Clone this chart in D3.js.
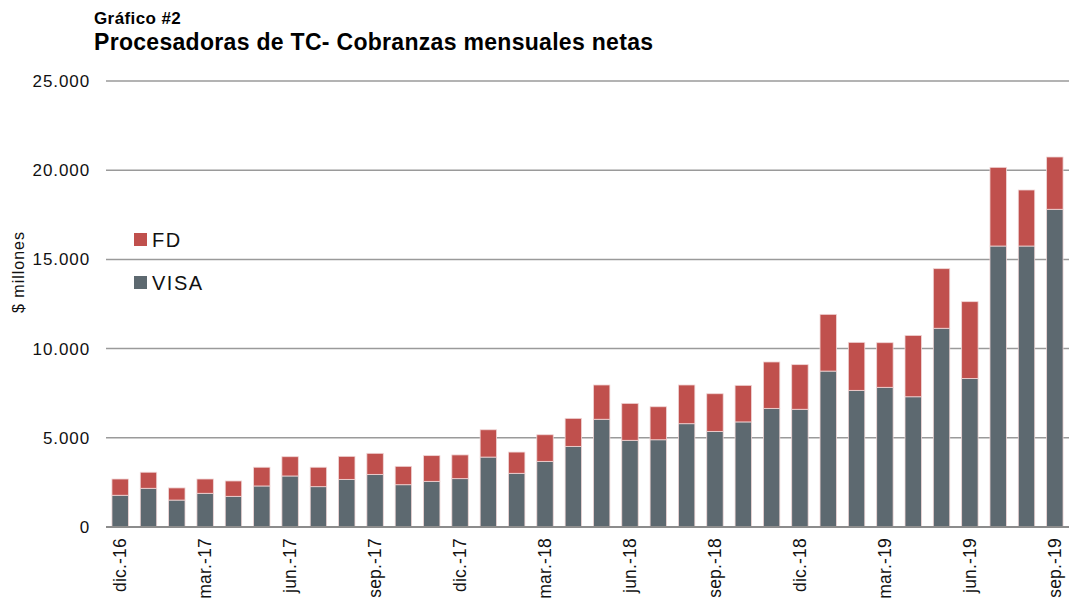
<!DOCTYPE html>
<html>
<head>
<meta charset="utf-8">
<script src="https://cdn.jsdelivr.net/npm/d3@7"></script>
<style>
  body { margin: 0; background: #fff; }
  text { font-family: "Liberation Sans", Arial, sans-serif; }
</style>
</head>
<body>
<div id="chart"></div>
<script>
// months from dic.-16 to sep.-19
const months = [
  "dic.-16", "ene.-17", "feb.-17", "mar.-17", "abr.-17", "may.-17", "jun.-17", "jul.-17",
  "ago.-17", "sep.-17", "oct.-17", "nov.-17", "dic.-17", "ene.-18", "feb.-18", "mar.-18",
  "abr.-18", "may.-18", "jun.-18", "jul.-18", "ago.-18", "sep.-18", "oct.-18", "nov.-18",
  "dic.-18", "ene.-19", "feb.-19", "mar.-19", "abr.-19", "may.-19", "jun.-19", "jul.-19",
  "ago.-19", "sep.-19"
];

// $ millones
const visa = [
  1780, 2170, 1510, 1890, 1720, 2300, 2860, 2260, 2670, 2950, 2370, 2560, 2710,
  3920, 3010, 3680, 4520, 6040, 4860, 4890, 5790, 5360, 5890, 6650, 6600,
  8740, 7660, 7830, 7300, 11140, 8330, 15750, 15750, 17810
];
const fd = [
  910, 900, 680, 800, 860, 1050, 1080, 1090, 1290, 1180, 1030, 1440, 1330,
  1530, 1190, 1490, 1570, 1920, 2070, 1850, 2170, 2110, 2050, 2600, 2500,
  3180, 2690, 2500, 3440, 3340, 4300, 4410, 3140, 2930
];

const yTicks = [0, 5000, 10000, 15000, 20000, 25000];
const labelMonths = months.filter((d, i) => i % 3 === 0);

const seriesNames = ["VISA", "FD"];
const colors = { VISA: "#5D6970", FD: "#C0504D" };

const width = 1077;
const height = 601;
const margin = { top: 81, right: 8, bottom: 74, left: 106 };

const svg = d3.select("#chart")
  .append("svg")
  .attr("width", width)
  .attr("height", height);

const table = months.map((m, i) => ({ month: m, VISA: visa[i], FD: fd[i] }));
const stacked = d3.stack().keys(seriesNames)(table);

const x = d3.scaleBand()
  .domain(months)
  .range([margin.left, width - margin.right])
  .paddingInner(0.42)
  .paddingOuter(0.21);

const y = d3.scaleLinear()
  .domain([0, 25000])
  .range([height - margin.bottom, margin.top]);

// grid lines
svg.append("g")
  .selectAll("line")
  .data(yTicks.filter((d) => d > 0))
  .join("line")
  .attr("x1", margin.left)
  .attr("x2", width - margin.right)
  .attr("y1", (d) => y(d))
  .attr("y2", (d) => y(d))
  .attr("stroke", "#9a9a9a")
  .attr("stroke-width", 1.5);

// y tick labels
const fmt = (d) => d3.format(",")(d).replace(/,/g, ".");
svg.append("g")
  .selectAll("text")
  .data(yTicks)
  .join("text")
  .attr("x", margin.left - 16)
  .attr("y", (d) => y(d))
  .attr("dy", "0.35em")
  .attr("text-anchor", "end")
  .attr("font-size", 17)
  .attr("letter-spacing", 0.9)
  .attr("fill", "#111")
  .text(fmt);

// bars
svg.append("g")
  .selectAll("g")
  .data(stacked)
  .join("g")
  .attr("fill", (s) => colors[s.key])
  .selectAll("rect")
  .data((s) => s)
  .join("rect")
  .attr("x", (d) => x(d.data.month))
  .attr("y", (d) => y(d[1]))
  .attr("width", x.bandwidth())
  .attr("height", (d) => y(d[0]) - y(d[1]))
  .attr("stroke", "#f0d6d6")
  .attr("stroke-width", 0.8);

// baseline
svg.append("line")
  .attr("x1", margin.left)
  .attr("x2", width - margin.right)
  .attr("y1", y(0))
  .attr("y2", y(0))
  .attr("stroke", "#8c8c8c")
  .attr("stroke-width", 2);

// x labels (every 3rd month)
svg.append("g")
  .selectAll("text")
  .data(labelMonths)
  .join("text")
  .attr("transform", (d) => `translate(${x(d) + x.bandwidth() / 2 + 6},${y(0) + 11}) rotate(-90)`)
  .attr("text-anchor", "end")
  .attr("font-size", 17.5)
  .attr("letter-spacing", 0.2)
  .attr("fill", "#111")
  .text((d) => d);

// y axis title
svg.append("text")
  .attr("transform", `translate(24,272) rotate(-90)`)
  .attr("text-anchor", "middle")
  .attr("font-size", 16)
  .attr("letter-spacing", 1)
  .attr("fill", "#111")
  .text("$ millones");

// titles
svg.append("text")
  .attr("x", 94)
  .attr("y", 24)
  .attr("font-size", 17)
  .attr("letter-spacing", 0.4)
  .attr("font-weight", "bold")
  .attr("fill", "#000")
  .text("Gráfico #2");

svg.append("text")
  .attr("x", 94)
  .attr("y", 50)
  .attr("font-size", 23)
  .attr("letter-spacing", 0.3)
  .attr("font-weight", "bold")
  .attr("fill", "#000")
  .text("Procesadoras de TC- Cobranzas mensuales netas");

// legend
const legendItems = ["FD", "VISA"];
const legend = svg.append("g")
  .selectAll("g")
  .data(legendItems)
  .join("g")
  .attr("transform", (d, i) => `translate(134,${233 + i * 43})`);

legend.append("rect")
  .attr("width", 13)
  .attr("height", 13)
  .attr("fill", (d) => colors[d]);

legend.append("text")
  .attr("x", 18)
  .attr("y", 7)
  .attr("dy", "0.35em")
  .attr("font-size", 20)
  .attr("letter-spacing", 1.5)
  .attr("fill", "#111")
  .text((d) => d);
</script>
</body>
</html>
